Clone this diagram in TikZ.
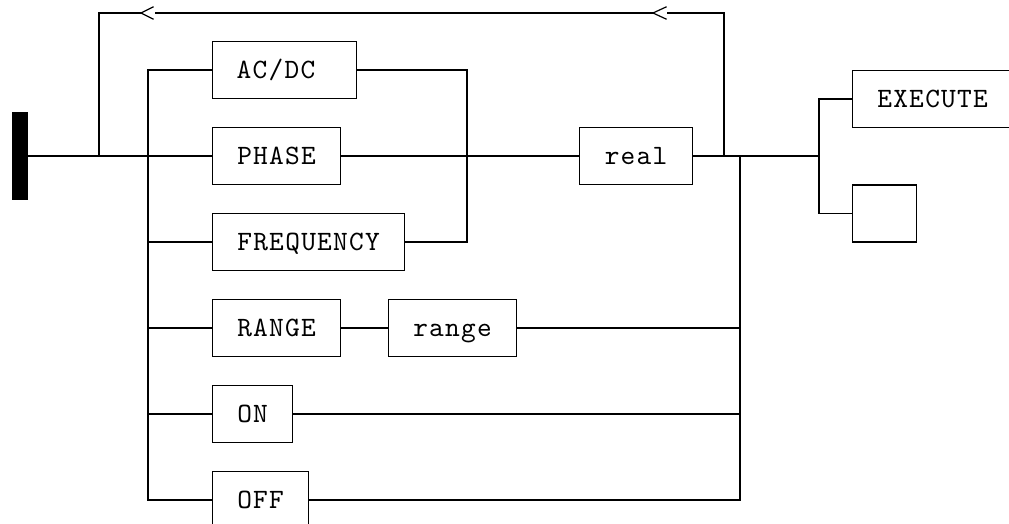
\documentclass[tikz,border=0pt]{standalone}
\usepackage{fontspec}
\newfontfamily\cour{lmmono10-regular.otf}[LetterSpace=4.6]
\tikzset{
  wire/.style={line width=1.2pt, line cap=rect},
  kw/.style={draw, line width=1.2pt, anchor=west, minimum height=57pt,
    inner xsep=0pt, inner ysep=0pt, text height=17pt, text depth=0pt,
    font=\cour\fontsize{28}{32}\selectfont},
}
\begin{document}
\begin{tikzpicture}[x=1pt,y=-1pt]
\useasboundingbox (0,0) rectangle (1009,524);
% start bar
\node[fill=black, inner sep=0pt, minimum width=16pt, minimum height=87pt] (start) at (20,156) {};
% keyword boxes
\node[kw, inner xsep=24pt, text width=96pt, align=left] (acdc) at (212,70) {AC/DC};
\node[kw, minimum width=128pt] (phase) at (212,156) {PHASE};
\node[kw, minimum width=192pt] (freq) at (212,242) {FREQUENCY};
\node[kw, minimum width=128pt] (rangekw) at (212,328) {RANGE};
\node[kw, minimum width=128pt] (rangev) at (388,328) {range};
\node[kw, minimum width=80pt] (on) at (212,414) {ON};
\node[kw, minimum width=96pt] (off) at (212,500) {OFF};
\node[kw, minimum width=113pt] (real) at (579,156) {real};
\node[kw, minimum width=160pt] (exec) at (852,99) {EXECUTE};
\node[kw, minimum width=64pt] (empty) at (852,213.5) {};
% junction coordinates
\coordinate (jl) at (99,156);
\coordinate (tl) at (99,13);
\coordinate (c1tip) at (141,13);
\coordinate (c1a) at (153,7);
\coordinate (c1b) at (153,19);
\coordinate (c1end) at (156,13);
\coordinate (c2tip) at (653,13);
\coordinate (c2a) at (666,7);
\coordinate (c2b) at (666,19);
\coordinate (c2end) at (668,13);
\coordinate (tr) at (724,13);
\coordinate (jr) at (724,156);
\coordinate (b1) at (148,70);
\coordinate (b3) at (148,242);
\coordinate (b4) at (148,328);
\coordinate (b5) at (148,414);
\coordinate (b6) at (148,500);
\coordinate (s1) at (467,70);
\coordinate (s3) at (467,242);
\coordinate (r1) at (740,156);
\coordinate (r4) at (740,328);
\coordinate (r5) at (740,414);
\coordinate (r6) at (740,500);
\coordinate (e0) at (819,156);
\coordinate (e1) at (819,99);
\coordinate (e2) at (819,213.5);
% main line
\draw[wire] (start.east) -- (phase.west);
\draw[wire] (phase.east) -- (real.west);
\draw[wire] (real.east) -- (e0);
% repeat loop
\draw[wire] (jl) -- (tl) -- (c1tip);
\draw[wire] (c1a) -- (c1tip) -- (c1b);
\draw[wire] (c1end) -- (c2tip);
\draw[wire] (c2a) -- (c2tip) -- (c2b);
\draw[wire] (c2end) -- (tr) -- (jr);
% left bus
\draw[wire] (b1) -- (b6);
\draw[wire] (b1) -- (acdc.west);
\draw[wire] (b3) -- (freq.west);
\draw[wire] (b4) -- (rangekw.west);
\draw[wire] (b5) -- (on.west);
\draw[wire] (b6) -- (off.west);
% small right bus
\draw[wire] (acdc.east) -- (s1) -- (s3) -- (freq.east);
% range
\draw[wire] (rangekw.east) -- (rangev.west);
% big right bus
\draw[wire] (r1) -- (r6);
\draw[wire] (rangev.east) -- (r4);
\draw[wire] (on.east) -- (r5);
\draw[wire] (off.east) -- (r6);
% end branch
\draw[wire] (e1) -- (e2);
\draw[wire] (e1) -- (exec.west);
\draw[wire] (e2) -- (empty.west);
\end{tikzpicture}
\end{document}
